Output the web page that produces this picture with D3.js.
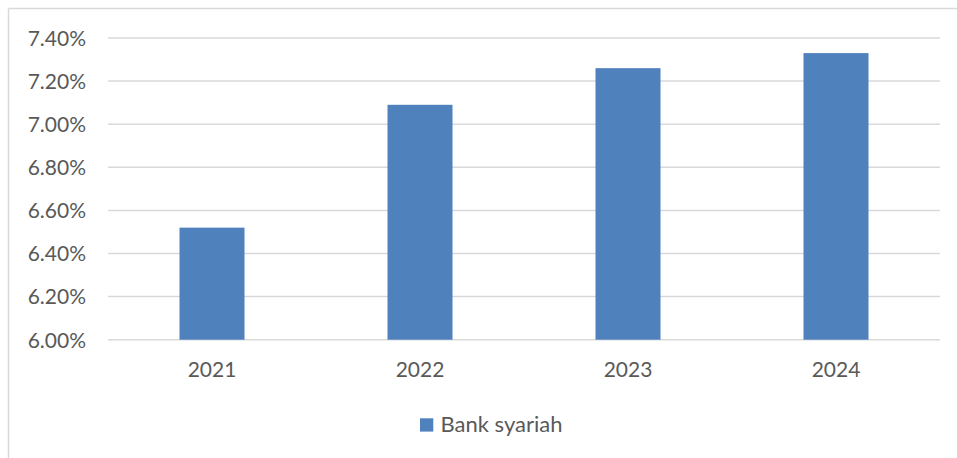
<!DOCTYPE html>
<html>
<head>
<meta charset="utf-8">
<script src="https://cdn.jsdelivr.net/npm/d3@7"></script>
<style>
  html, body { margin: 0; padding: 0; background: #fff; }
  svg { display: block; }
  text { font-family: Lato, "Open Sans", sans-serif; fill: #595959; }
</style>
</head>
<body>
<svg id="chart" width="957" height="458"></svg>
<script>
// Data
const years = ["2021", "2022", "2023", "2024"];
const bankSyariah = [6.52, 7.09, 7.26, 7.33];
const yTicks = [6.0, 6.2, 6.4, 6.6, 6.8, 7.0, 7.2, 7.4];
const seriesName = "Bank syariah";

const svg = d3.select("#chart");
const W = 957, H = 458;
const plot = { left: 108, right: 940, top: 38, bottom: 339.7 };
const barColor = "#4f81bd";
const gridColor = "#d9d9d9";

// Chart frame (top and left edges visible)
svg.append("line").attr("x1", 8.5).attr("x2", W).attr("y1", 8.5).attr("y2", 8.5)
  .attr("stroke", gridColor).attr("stroke-width", 1.5);
svg.append("line").attr("x1", 8.5).attr("x2", 8.5).attr("y1", 8.5).attr("y2", H)
  .attr("stroke", gridColor).attr("stroke-width", 1.5);

const x = d3.scaleBand().domain(years).range([plot.left, plot.right])
  .paddingInner(0.6875).paddingOuter(0.34375);
const y = d3.scaleLinear().domain([6.0, 7.4]).range([plot.bottom, plot.top]);

// Gridlines
svg.append("g").selectAll("line").data(yTicks).join("line")
  .attr("x1", plot.left).attr("x2", plot.right)
  .attr("y1", d => y(d)).attr("y2", d => y(d))
  .attr("stroke", gridColor).attr("stroke-width", 1.5);

// Y axis labels
const yAxis = d3.axisLeft(y).tickValues(yTicks).tickSize(0).tickPadding(0)
  .tickFormat(d => d3.format(".2f")(d) + "%");
const gy = svg.append("g").attr("transform", `translate(86,0)`).call(yAxis);
gy.select(".domain").remove();
gy.selectAll("text").style("font-size", "21px").attr("fill", "#595959")
  .style("font-family", "Lato, 'Open Sans', sans-serif").attr("dy", "0.35em");

// Bars
svg.append("g").selectAll("rect").data(years).join("rect")
  .attr("x", d => x(d))
  .attr("width", x.bandwidth())
  .attr("y", (d, i) => y(bankSyariah[i]))
  .attr("height", (d, i) => y(6.0) - y(bankSyariah[i]))
  .attr("fill", barColor);

// X axis labels
const xAxis = d3.axisBottom(x).tickSize(0).tickPadding(0);
const gx = svg.append("g").attr("transform", `translate(0,${plot.bottom + 22})`).call(xAxis);
gx.select(".domain").remove();
gx.selectAll("text").style("font-size", "21px").attr("fill", "#595959")
  .style("font-family", "Lato, 'Open Sans', sans-serif").attr("dy", "0.71em");

// Legend
const lg = svg.append("g");
lg.append("rect").attr("x", 420).attr("y", 418.3).attr("width", 13.3).attr("height", 13.3)
  .attr("fill", barColor);
lg.append("text").attr("x", 440.5).attr("y", 431.5).style("font-size", "22px").text(seriesName);
</script>
</body>
</html>
